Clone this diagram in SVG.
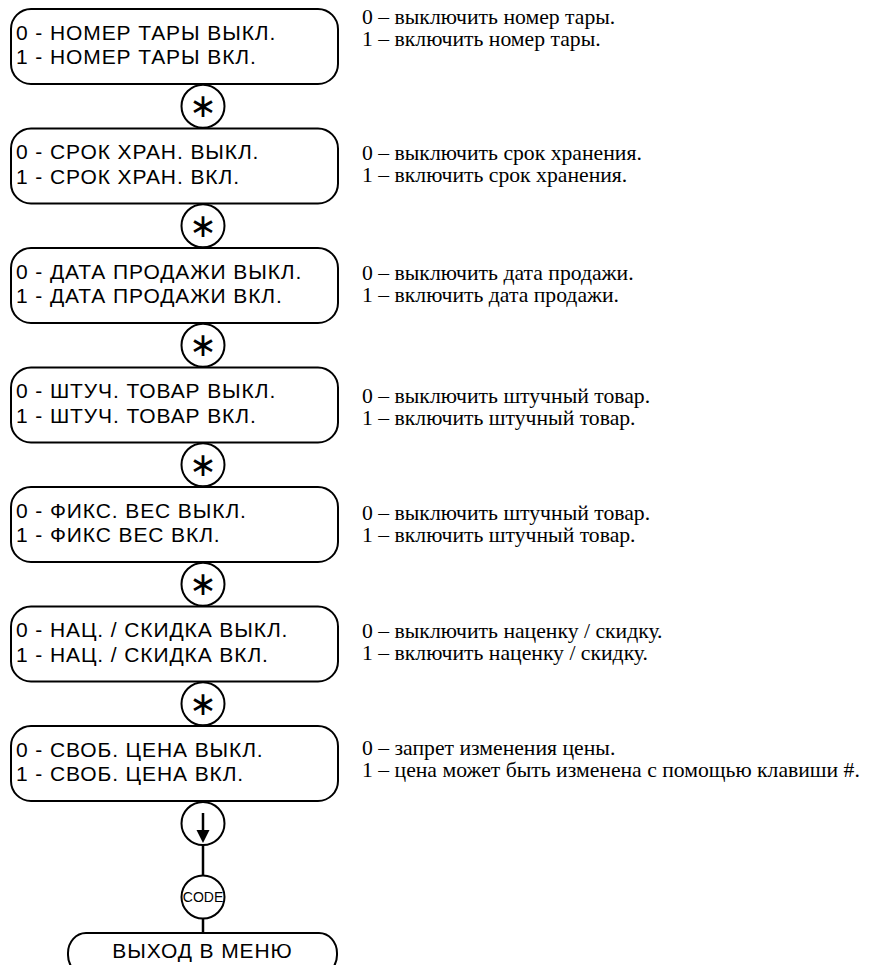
<svg xmlns="http://www.w3.org/2000/svg" width="881" height="965" viewBox="0 0 881 965">
<style>
.box{fill:none;stroke:#000;stroke-width:2}
.key{fill:#fff;stroke:#000;stroke-width:2}
.lbl{font-family:"Liberation Sans",Arial,sans-serif;font-size:21px;letter-spacing:0.9px;fill:#000}
.desc{font-family:"Liberation Serif","Times New Roman",serif;font-size:21.7px;fill:#000}
.ast{font-family:"DejaVu Sans",sans-serif;font-size:33px;fill:#000;text-anchor:middle}
.code{font-family:"Liberation Sans",Arial,sans-serif;font-size:14px;fill:#000;text-anchor:middle}
.conn{stroke:#000;stroke-width:2.5;fill:none}
</style>
<rect width="881" height="965" fill="#fff"/>
<g id="connectors">
<line class="conn" x1="203" y1="845" x2="203" y2="876"/>
<line class="conn" x1="203" y1="918" x2="203" y2="933"/>
</g>
<g id="n1"><rect class="box" x="11" y="9" width="327" height="75" rx="20"/>
<text class="lbl" x="16" y="39.5">0 - НОМЕР ТАРЫ ВЫКЛ.</text><text class="lbl" x="16" y="64">1 - НОМЕР ТАРЫ ВКЛ.</text>
<text class="desc" x="362" y="24">0 – выключить номер тары.</text><text class="desc" x="362" y="46">1 – включить номер тары.</text></g>
<g id="k1"><circle class="key" cx="203" cy="106.25" r="21.5"/><text class="ast" x="203" y="117">∗</text></g>
<g id="n2"><rect class="box" x="11" y="128.5" width="327" height="75" rx="20"/>
<text class="lbl" x="16" y="159">0 - СРОК ХРАН. ВЫКЛ.</text><text class="lbl" x="16" y="183.5">1 - СРОК ХРАН. ВКЛ.</text>
<text class="desc" x="362" y="160">0 – выключить срок хранения.</text><text class="desc" x="362" y="182">1 – включить срок хранения.</text></g>
<g id="k2"><circle class="key" cx="203" cy="225.75" r="21.5"/><text class="ast" x="203" y="236.5">∗</text></g>
<g id="n3"><rect class="box" x="11" y="248" width="327" height="75" rx="20"/>
<text class="lbl" x="16" y="278.5">0 - ДАТА ПРОДАЖИ ВЫКЛ.</text><text class="lbl" x="16" y="303">1 - ДАТА ПРОДАЖИ ВКЛ.</text>
<text class="desc" x="362" y="279.5">0 – выключить дата продажи.</text><text class="desc" x="362" y="301.5">1 – включить дата продажи.</text></g>
<g id="k3"><circle class="key" cx="203" cy="345.25" r="21.5"/><text class="ast" x="203" y="356">∗</text></g>
<g id="n4"><rect class="box" x="11" y="367.5" width="327" height="75" rx="20"/>
<text class="lbl" x="16" y="398">0 - ШТУЧ. ТОВАР ВЫКЛ.</text><text class="lbl" x="16" y="422.5">1 - ШТУЧ. ТОВАР ВКЛ.</text>
<text class="desc" x="362" y="403">0 – выключить штучный товар.</text><text class="desc" x="362" y="425">1 – включить штучный товар.</text></g>
<g id="k4"><circle class="key" cx="203" cy="464.75" r="21.5"/><text class="ast" x="203" y="475.5">∗</text></g>
<g id="n5"><rect class="box" x="11" y="487" width="327" height="75" rx="20"/>
<text class="lbl" x="16" y="517.5">0 - ФИКС. ВЕС ВЫКЛ.</text><text class="lbl" x="16" y="542">1 - ФИКС ВЕС ВКЛ.</text>
<text class="desc" x="362" y="519.5">0 – выключить штучный товар.</text><text class="desc" x="362" y="541.5">1 – включить штучный товар.</text></g>
<g id="k5"><circle class="key" cx="203" cy="584.25" r="21.5"/><text class="ast" x="203" y="595">∗</text></g>
<g id="n6"><rect class="box" x="11" y="606.5" width="327" height="75" rx="20"/>
<text class="lbl" x="16" y="637">0 - НАЦ. / СКИДКА ВЫКЛ.</text><text class="lbl" x="16" y="661.5">1 - НАЦ. / СКИДКА ВКЛ.</text>
<text class="desc" x="362" y="637.5">0 – выключить наценку / скидку.</text><text class="desc" x="362" y="659.5">1 – включить наценку / скидку.</text></g>
<g id="k6"><circle class="key" cx="203" cy="703.75" r="21.5"/><text class="ast" x="203" y="714.5">∗</text></g>
<g id="n7"><rect class="box" x="11" y="726" width="327" height="75" rx="20"/>
<text class="lbl" x="16" y="756.5">0 - СВОБ. ЦЕНА ВЫКЛ.</text><text class="lbl" x="16" y="781">1 - СВОБ. ЦЕНА ВКЛ.</text>
<text class="desc" x="362" y="755">0 – запрет изменения цены.</text><text class="desc" x="362" y="777">1 – цена может быть изменена с помощью клавиши #.</text></g>
<g id="k7"><circle class="key" cx="203" cy="823.5" r="21.5"/>
<line x1="203" y1="813" x2="203" y2="834" stroke="#000" stroke-width="2.5"/>
<polygon points="196.5,830 209.5,830 203,843" fill="#000"/></g>
<g id="k8"><circle class="key" cx="203" cy="897" r="21.5"/><text class="code" x="203" y="902">CODE</text></g>
<g id="exit"><rect class="box" x="68" y="933" width="269" height="42" rx="18" ry="20"/>
<text class="lbl" x="202.5" y="958" text-anchor="middle">ВЫХОД В МЕНЮ</text></g>
</svg>
